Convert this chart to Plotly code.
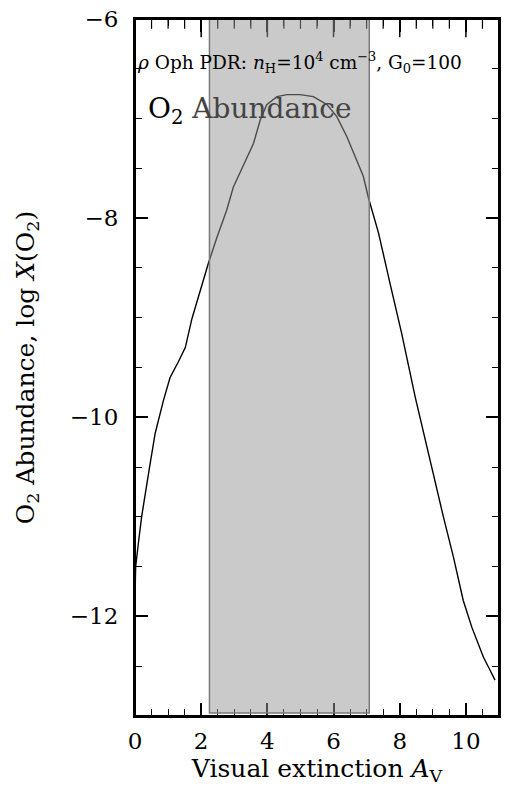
import plotly.graph_objects as go

# Data
av = [0.0, 0.02, 0.1, 0.2, 0.44, 0.61, 0.86, 1.06, 1.3, 1.52, 1.72, 1.97, 2.22,
      2.47, 2.77, 2.97, 3.07, 3.38, 3.58, 3.78, 3.98, 4.29, 4.59, 4.99, 5.39,
      5.8, 6.1, 6.4, 6.7, 6.9, 7.05, 7.36, 7.71, 8.06, 8.47, 8.72, 9.02, 9.32,
      9.62, 9.92, 10.18, 10.53, 10.7, 10.88]
log_x_o2 = [-11.8, -11.5, -11.27, -11.0, -10.5, -10.16, -9.83, -9.6, -9.45,
            -9.3, -9.01, -8.72, -8.45, -8.2, -7.92, -7.69, -7.62, -7.4, -7.25,
            -7.02, -6.86, -6.78, -6.76, -6.76, -6.78, -6.86, -6.98, -7.18, -7.42,
            -7.58, -7.79, -8.15, -8.66, -9.16, -9.8, -10.16, -10.6, -11.0, -11.4,
            -11.84, -12.11, -12.41, -12.52, -12.64]
shade_x = [2.25, 7.08]
shade_y = [-12.97, -5.91]
x_range = [0, 11]
y_range = [-13, -6]
x_ticks = [0, 2, 4, 6, 8, 10]
y_ticks = [-12, -10, -8, -6]
minor_step = 0.5

font = "DejaVu Serif"

# tick positions along the top frame edge, derived from the tick lists / range
n_minor = int(round((x_range[1] - x_range[0]) / minor_step))
top_minor_x = [x_range[0] + i * minor_step for i in range(1, n_minor)
               if (x_range[0] + i * minor_step) not in x_ticks]
top_major_x = x_ticks[1:]

fig = go.Figure()
fig.add_trace(go.Scatter(x=av, y=log_x_o2, mode="lines",
                         line=dict(color="black", width=1.4),
                         showlegend=False, hoverinfo="skip"))
# same curve bound to the top/right frame axes (invisible) so those axes are drawn
fig.add_trace(go.Scatter(x=av, y=log_x_o2, mode="lines", xaxis="x2", yaxis="y2",
                         line=dict(color="rgba(0,0,0,0)", width=0),
                         showlegend=False, hoverinfo="skip"))
# inward tick marks on the top edge (markers clipped by the plot area)
fig.add_trace(go.Scatter(x=top_major_x, y=[y_range[1]] * len(top_major_x), mode="markers",
                         marker=dict(symbol="line-ns", size=26,
                                     line=dict(color="black", width=1.5)),
                         cliponaxis=True, showlegend=False, hoverinfo="skip"))
fig.add_trace(go.Scatter(x=top_minor_x, y=[y_range[1]] * len(top_minor_x), mode="markers",
                         marker=dict(symbol="line-ns", size=14,
                                     line=dict(color="black", width=1.2)),
                         cliponaxis=True, showlegend=False, hoverinfo="skip"))

fig.add_shape(type="rect", xref="x", yref="y",
              x0=shade_x[0], x1=shade_x[1], y0=shade_y[0], y1=shade_y[1],
              fillcolor="rgba(150,150,150,0.5)", line=dict(color="#7a7a7a", width=1.5),
              layer="above")
# plot frame
fig.add_shape(type="rect", xref="paper", yref="paper", x0=0, x1=1, y0=0, y1=1,
              line=dict(color="black", width=2), fillcolor="rgba(0,0,0,0)", layer="above")

fig.add_annotation(xref="paper", yref="paper", x=0.0, y=0.937, xanchor="left", yanchor="middle",
                   showarrow=False,
                   text="<i>ρ</i> Oph PDR: <i>n</i><sub>H</sub>=10<sup>4</sup> cm<sup>−3</sup>, G<sub>0</sub>=100",
                   font=dict(family=font, size=18.5, color="black"))
fig.add_annotation(xref="paper", yref="paper", x=0.03, y=0.869, xanchor="left", yanchor="middle",
                   showarrow=False,
                   text="O<sub>2</sub> <span style='color:#444'>Abundance</span>",
                   font=dict(family=font, size=28, color="black"))

minor = dict(dtick=minor_step, ticks="inside", ticklen=7, tickwidth=1.2, tickcolor="black")
axis_common = dict(showgrid=False, zeroline=False, showline=True, linecolor="black",
                   linewidth=2, ticks="inside", ticklen=13, tickwidth=1.5,
                   tickcolor="black", automargin=False, minor=minor,
                   tickfont=dict(family=font, size=23, color="black"))

fig.update_layout(
    xaxis=dict(range=x_range, tickvals=x_ticks,
               title=dict(text="Visual extinction <i>A</i><sub>V</sub>",
                          font=dict(family=font, size=25, color="black"), standoff=4),
               ticklabelstandoff=3, **axis_common),
    yaxis=dict(range=y_range, tickvals=y_ticks,
               title=dict(text="O<sub>2</sub> Abundance, log <i>X</i>(O<sub>2</sub>)",
                          font=dict(family=font, size=25, color="black"), standoff=28),
               ticklabelstandoff=10, **axis_common),
    xaxis2=dict(range=x_range, tickvals=x_ticks, overlaying="x", side="top",
                showticklabels=False, **axis_common),
    yaxis2=dict(range=y_range, tickvals=y_ticks, overlaying="y", side="right",
                showticklabels=False, **axis_common),
    width=510, height=792, margin=dict(l=135, r=11, t=19, b=76),
    plot_bgcolor="white", paper_bgcolor="white", showlegend=False,
)

# remove the default 8px page margin so the figure sits at the window origin
fig.write_html("out.html", config={"displayModeBar": False},
               post_script="document.body.style.margin='0';document.body.style.overflow='hidden';")
